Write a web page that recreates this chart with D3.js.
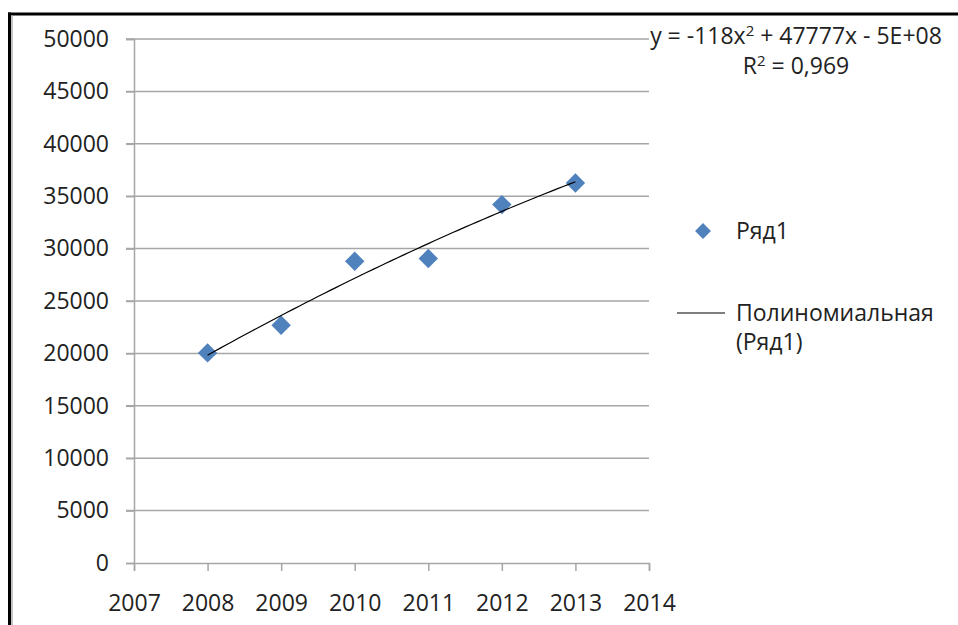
<!DOCTYPE html>
<html><head><meta charset="utf-8">
<script src="https://cdn.jsdelivr.net/npm/d3@7/dist/d3.min.js"></script>
<style>body{margin:0;background:#fff;} svg{display:block;font-family:"Open Sans",sans-serif;}</style>
</head><body>
<svg id="c" width="958" height="625"></svg>
<script>
const years = [2008, 2009, 2010, 2011, 2012, 2013];
const values = [20050, 22680, 28790, 29050, 34200, 36260];
const yTicks = [0, 5000, 10000, 15000, 20000, 25000, 30000, 35000, 40000, 45000, 50000];
const xTicks = [2007, 2008, 2009, 2010, 2011, 2012, 2013, 2014];
const seriesName = "Ряд1";
const trendName = ["Полиномиальная", "(Ряд1)"];
const eqText = ["y = -118x", "2", " + 47777x - 5E+08"];
const r2Text = ["R", "2", " = 0,969"];

const svg = d3.select("#c");
const x = d3.scaleLinear().domain([2007, 2014]).range([134, 649]);
const y = d3.scaleLinear().domain([0, 50000]).range([563, 39]);

// frame
svg.append("line").attr("x1",8).attr("x2",958).attr("y1",14).attr("y2",14).attr("stroke","#000").attr("stroke-width",3);
svg.append("line").attr("x1",9.5).attr("x2",9.5).attr("y1",12.5).attr("y2",625).attr("stroke","#000").attr("stroke-width",3);
svg.append("line").attr("x1",12).attr("x2",12).attr("y1",15.5).attr("y2",625).attr("stroke","#b0b0b0").attr("stroke-width",1.5);

const grid = "#a6a6a6";
// gridlines
svg.append("g").selectAll("line").data(yTicks.slice(1)).join("line")
  .attr("x1",126).attr("x2",649).attr("y1",d=>y(d)).attr("y2",d=>y(d))
  .attr("stroke",grid).attr("stroke-width",1.5);

// y axis
const yAxis = svg.append("g").attr("transform","translate(134,0)")
  .call(d3.axisLeft(y).tickValues(yTicks).tickSize(8).tickPadding(17).tickFormat(d3.format("d")));
yAxis.select(".domain").attr("stroke",grid).attr("stroke-width",1.5);
yAxis.selectAll(".tick line").attr("stroke",grid).attr("stroke-width",1.5);
yAxis.selectAll("text").attr("font-size",23).attr("fill","#222").attr("font-family","Open Sans");

// x axis
const xAxis = svg.append("g").attr("transform","translate(0,563)")
  .call(d3.axisBottom(x).tickValues(xTicks).tickSize(8).tickPadding(24).tickFormat(d3.format("d")));
xAxis.select(".domain").attr("stroke",grid).attr("stroke-width",1.5);
xAxis.selectAll(".tick line").attr("stroke",grid).attr("stroke-width",1.5);
xAxis.selectAll("text").attr("font-size",23).attr("fill","#222").attr("font-family","Open Sans");

// quadratic least-squares trend (from data)
const mx = d3.mean(years);
const u = years.map(v=>v-mx);
const s = k => d3.sum(u, v=>Math.pow(v,k));
const sy = k => d3.sum(u.map((v,i)=>Math.pow(v,k)*values[i]));
const n = years.length;
const M = [[n, s(1), s(2)],[s(1), s(2), s(3)],[s(2), s(3), s(4)]];
const B = [sy(0), sy(1), sy(2)];
function solve(A, b){
  A = A.map((r,i)=>[...r, b[i]]);
  for(let i=0;i<3;i++){
    for(let j=i+1;j<3;j++){ const f=A[j][i]/A[i][i]; for(let k=i;k<4;k++) A[j][k]-=f*A[i][k]; }
  }
  const r=[0,0,0];
  for(let i=2;i>=0;i--){ let v=A[i][3]; for(let k=i+1;k<3;k++) v-=A[i][k]*r[k]; r[i]=v/A[i][i]; }
  return r;
}
const coef = solve(M, B);
const fit = t => coef[0] + coef[1]*(t-mx) + coef[2]*(t-mx)*(t-mx);
const samples = d3.range(0, 61).map(i => years[0] + i*(years[n-1]-years[0])/60);

// points
svg.append("g").selectAll("path").data(years).join("path")
  .attr("d", d3.symbol(d3.symbolDiamond2, 240))
  .attr("transform",(d,i)=>`translate(${x(d)},${y(values[i])})`)
  .attr("fill","#4f81bd");

svg.append("path").datum(samples)
  .attr("d", d3.line().x(d=>x(d)).y(d=>y(fit(d))))
  .attr("fill","none").attr("stroke","#000").attr("stroke-width",1.2);

// equation
const eq = svg.append("text").attr("x",796).attr("y",44).attr("text-anchor","middle")
  .attr("font-size",23).attr("fill","#222");
eq.append("tspan").text(eqText[0]);
eq.append("tspan").attr("dy",-8).attr("font-size",15).text(eqText[1]);
eq.append("tspan").attr("dy",8).text(eqText[2]);
const r2 = svg.append("text").attr("x",796).attr("y",74).attr("text-anchor","middle")
  .attr("font-size",23).attr("fill","#222");
r2.append("tspan").text(r2Text[0]);
r2.append("tspan").attr("dy",-8).attr("font-size",15).text(r2Text[1]);
r2.append("tspan").attr("dy",8).text(r2Text[2]);

// legend
svg.append("path").attr("d", d3.symbol(d3.symbolDiamond2, 160))
  .attr("transform","translate(703,231)").attr("fill","#4f81bd");
svg.append("text").attr("x",736).attr("y",239).attr("font-size",23).attr("fill","#222").text(seriesName);
svg.append("line").attr("x1",677).attr("x2",725).attr("y1",313).attr("y2",313).attr("stroke","#000").attr("stroke-width",1.2);
svg.append("text").attr("x",736).attr("y",321).attr("font-size",23).attr("fill","#222").text(trendName[0]);
svg.append("text").attr("x",736).attr("y",350).attr("font-size",23).attr("fill","#222").text(trendName[1]);
</script>
</body></html>
